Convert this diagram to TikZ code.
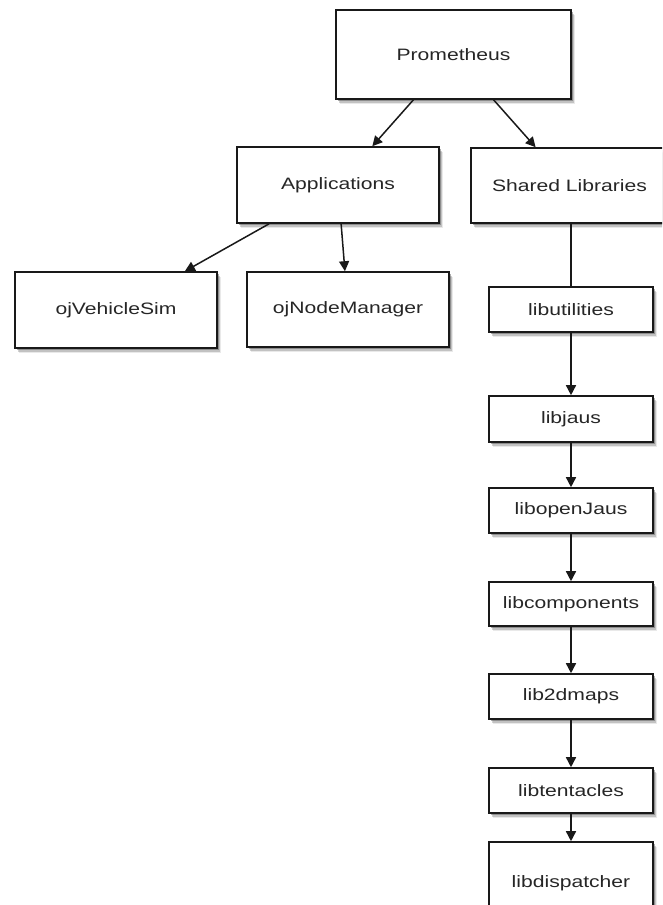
\documentclass[tikz,border=0pt]{standalone}
\usepackage{fontspec}
\setmainfont{Liberation Sans}[FakeStretch=1.28]
\usetikzlibrary{arrows.meta,shadows}
\begin{document}
\begin{tikzpicture}[x=1pt,y=-1pt,
  box/.style={draw=black!90, line width=1.6pt, fill=white, minimum width=#1,
    inner sep=0pt, text=black!85, font=\fontsize{16.5}{19}\selectfont,
    drop shadow={shadow xshift=1.5pt,shadow yshift=-2pt,opacity=0.45,fill=black!70},
    drop shadow={shadow xshift=2.5pt,shadow yshift=-3.5pt,opacity=0.25,fill=black!70},
    drop shadow={shadow xshift=3.5pt,shadow yshift=-5pt,opacity=0.12,fill=black!70}},
  link/.style={draw=black!90, line width=1.5pt},
  arrow/.style={link, -{Triangle[length=10pt,width=10pt]}}
]
\useasboundingbox (0,0) rectangle (662,905);
\clip (0,0) rectangle (662,905);

% top level
\node[box=235pt, minimum height=89pt] (prom) at (453.5,54.5) {Prometheus};

% second level
\node[box=202pt, minimum height=76pt] (apps) at (338,185) {Applications};
\node[box=197pt, minimum height=75pt] (shared) at (569.5,185.5) {Shared Libraries};

% applications
\node[box=202pt, minimum height=76pt] (vsim) at (116,310) {ojVehicleSim};
\node[box=202pt, minimum height=75pt] (nodemgr) at (348,309.5) {ojNodeManager};

% library chain
\node[box=164pt, minimum height=45pt] (util) at (571,309.5) {libutilities};
\node[box=164pt, minimum height=46pt] (jaus) at (571,419) {libjaus};
\node[box=164pt, minimum height=45pt] (openjaus) at (571,510.5) {libopenJaus};
\node[box=164pt, minimum height=44pt] (comp) at (571,604) {libcomponents};
\node[box=164pt, minimum height=45pt] (maps) at (571,696.5) {lib2dmaps};
\node[box=164pt, minimum height=45pt] (tent) at (571,790.5) {libtentacles};
\node[box=164pt, minimum height=82pt] (disp) at (571,883) {libdispatcher};

% connectors
\draw[arrow] (prom) -- (apps);
\draw[arrow] (prom) -- (shared);
\draw[arrow] (apps) -- (vsim);
\draw[arrow] (apps) -- (nodemgr);
\draw[link] (shared.south -| util.north) -- (util.north);
\draw[arrow] (util) -- (jaus);
\draw[arrow] (jaus) -- (openjaus);
\draw[arrow] (openjaus) -- (comp);
\draw[arrow] (comp) -- (maps);
\draw[arrow] (maps) -- (tent);
\draw[arrow] (tent) -- (disp.north);
\end{tikzpicture}
\end{document}
